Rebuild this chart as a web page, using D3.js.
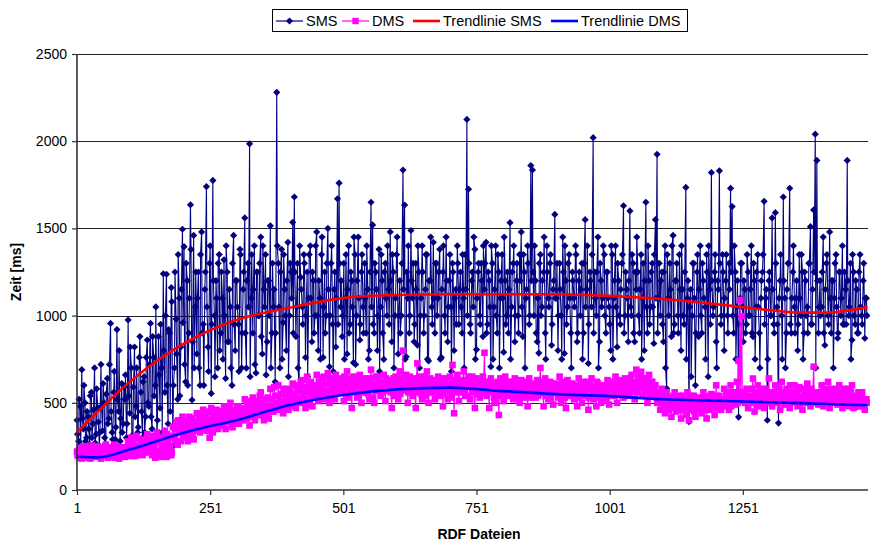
<!DOCTYPE html>
<html>
<head>
<meta charset="utf-8">
<script src="https://cdn.jsdelivr.net/npm/d3@7"></script>
<style>
  body { margin: 0; background: #fff; }
  svg { display: block; font-family: "Liberation Sans", Arial, sans-serif; }
</style>
</head>
<body>
<svg width="870" height="544"></svg>
<script>
// values in ms
// *Values: files 1, 4, 7, ...   *ValuesB: files 2, 5, 8, ...
const fileStep = 3;

const smsValues = [
  400, 280, 480, 690, 350, 500, 300, 420, 260, 560, 380, 700, 320, 470, 250,
  720, 340, 500, 260, 640, 410, 955, 330, 560, 290, 920, 450, 280, 610, 380,
  520, 300, 975, 440, 700, 277, 820, 480, 330, 760, 560, 300, 650, 420, 860,
  480, 955, 350, 760, 600, 290, 880, 470, 700, 1240, 560, 1237, 380, 900, 1160,
  250, 700, 980, 520, 1100, 820, 1495, 1395, 620, 1200, 900, 1635, 516, 1460, 1050,
  780, 1250, 600, 1480, 950, 1150, 1740, 820, 1300, 554, 1775, 1000, 1200, 700, 1350,
  900, 1100, 1320, 640, 1250, 850, 1050, 600, 1460, 800, 1200, 950, 1380, 700, 1150,
  1560, 699, 1300, 1985, 1100, 900, 1400, 671, 1250, 1000, 1450, 780, 1150, 1350, 850,
  1200, 1515, 900, 1050, 620, 2280, 1300, 700, 1380, 960, 1150, 800, 1420, 1000, 1250,
  1535, 1680, 880, 1300, 592, 1220, 1050, 1350, 760, 1250, 1100, 1400, 850, 1200, 1000,
  1480, 800, 1100, 1350, 760, 1250, 1000, 1500, 707, 1300, 950, 1150, 820, 1670, 1760,
  1050, 880, 1300, 1100, 780, 1400, 950, 1200, 730, 1350, 1000, 1450, 860, 1250, 1050,
  1300, 900, 1150, 800, 1650, 1520, 900, 1250, 800, 1380, 1050, 1200, 749, 1300, 1000,
  1150, 1480, 850, 1250, 1000, 1350, 780, 1200, 1000, 1835, 1634, 764, 1100, 900, 1488,
  1100, 850, 1300, 831, 1250, 1000, 1400, 900, 1150, 1350, 740, 1200, 1050, 1420, 900,
  1300, 1100, 1380, 760, 1250, 1000, 1450, 850, 1200, 1050, 1300, 800, 1150, 1400, 950,
  1250, 900, 1100, 1350, 2125, 1725, 950, 1200, 1050, 1380, 805, 1250, 1000, 1300, 880,
  1150, 1420, 950, 1200, 707, 1300, 1050, 1400, 900, 1250, 1100, 1350, 790, 1200, 1000,
  900, 1533, 1050, 1300, 850, 1200, 1000, 1350, 1480, 880, 1250, 1100, 1400, 950, 1860,
  1835, 1000, 1200, 850, 785, 1350, 1050, 1250, 900, 1400, 1100, 1300, 830, 1150, 1580,
  1100, 800, 1300, 1000, 1450, 783, 1200, 1050, 1350, 900, 1250, 1100, 1400, 850, 1200,
  1000, 1300, 900, 1550, 1150, 726, 1250, 1050, 2020, 1250, 1000, 1450, 850, 1200, 1100,
  1350, 900, 1250, 1050, 800, 1350, 1100, 1400, 820, 1200, 950, 1300, 1630, 1000, 1150,
  850, 1600, 1000, 1300, 850, 1150, 1250, 900, 1350, 1100, 800, 1650, 900, 1200, 1050,
  1300, 840, 1550, 1925, 1100, 1000, 1250, 850, 1400, 582, 1100, 1300, 880, 1460, 950,
  1200, 1000, 1350, 800, 1150, 950, 1735, 1100, 392, 1150, 1000, 1300, 600, 1250, 880,
  1400, 900, 1200, 1050, 1350, 650, 1150, 1820, 1000, 1250, 850, 1200, 1830, 950, 1350,
  800, 1200, 1000, 1300, 1730, 1625, 900, 1250, 1050, 418, 1100, 1300, 850, 1150, 950,
  1250, 1000, 1400, 880, 1200, 1050, 1350, 900, 1100, 1250, 1655, 1100, 400, 1200, 1000,
  1560, 950, 1590, 1050, 384, 1200, 1000, 1680, 1100, 900, 1300, 1730, 900, 1250, 1050,
  1100, 800, 1350, 1000, 1250, 900, 1200, 1050, 1300, 1510, 950, 1606, 2040, 1890, 900,
  1200, 1050, 1450, 830, 1300, 1000, 1480, 900, 1200, 1100, 1350, 870, 1250, 1000, 1400,
  950, 1150, 1890, 1000, 1300, 860, 1250, 950, 1150, 900, 1350, 1000, 1200, 870, 1100
];

const smsValuesB = [
  320, 520, 260, 410, 600, 280, 450, 350, 540, 300, 460, 270, 580, 390, 330,
  480, 610, 300, 550, 380, 720, 450, 290, 680, 360, 520, 800, 410, 330, 590,
  660, 380, 540, 820, 310, 590, 420, 700, 360, 880, 450, 620, 330, 760, 500,
  720, 420, 880, 540, 1050, 400, 660, 950, 330, 800, 1000, 600, 920, 450, 1080,
  600, 1250, 780, 1350, 540, 1150, 960, 720, 1300, 600, 1100, 1380, 850, 700, 1250,
  1100, 700, 1350, 900, 600, 1250, 1050, 680, 1400, 950, 1200, 650, 1100, 1300, 800,
  1250, 750, 1000, 1400, 850, 1150, 700, 1300, 950, 1200, 1050, 680, 1350, 900, 1250,
  900, 1200, 1050, 650, 1350, 1150, 720, 1250, 1000, 1300, 880, 1400, 1050, 660, 1200,
  1000, 700, 1300, 1150, 900, 1400, 1050, 1250, 750, 1350, 1000, 1200, 650, 1300, 1100,
  900, 1250, 1050, 700, 1400, 1150, 950, 1300, 1000, 650, 1350, 1100, 1250, 900, 1400,
  1000, 1200, 750, 1450, 1050, 900, 1300, 1150, 1000, 1400, 680, 1250, 1100, 950, 1300,
  1200, 1000, 750, 1350, 1150, 900, 1250, 1050, 1450, 720, 1200, 1100, 950, 1350, 900,
  1100, 1400, 750, 1250, 1050, 950, 1300, 1150, 1000, 680, 1350, 900, 1250, 1100, 1400,
  950, 1200, 1350, 700, 1100, 1450, 1000, 900, 1300, 1150, 750, 1250, 1400, 1000, 1200,
  1300, 950, 1150, 1400, 700, 1100, 1250, 1000, 1350, 750, 1200, 1450, 950, 1100, 1300,
  1000, 1250, 750, 1150, 1400, 900, 1200, 1050, 1350, 680, 1250, 1100, 950, 1300, 1150,
  1050, 1350, 700, 1150, 1000, 1300, 900, 1250, 1450, 750, 1100, 1300, 950, 1200, 1400,
  1300, 900, 1250, 1050, 1400, 750, 1150, 1000, 1350, 700, 1200, 1100, 1450, 950, 1250,
  1150, 750, 1250, 1400, 1000, 1300, 900, 1200, 1050, 1350, 700, 1150, 1300, 1000, 1200,
  1250, 1400, 900, 1100, 1300, 1000, 1200, 1450, 750, 1250, 1050, 1350, 950, 1200, 1100,
  1300, 1000, 1150, 750, 1250, 1400, 950, 1300, 1100, 700, 1200, 1050, 1350, 900, 1250,
  1150, 750, 1300, 1050, 1400, 950, 1200, 1350, 900, 1100, 1250, 700, 1300, 1050, 1400,
  1000, 1250, 1100, 950, 1400, 750, 1200, 1050, 1300, 1000, 1150, 1350, 900, 1250, 1100,
  1200, 1050, 1350, 900, 1250, 1450, 1000, 1150, 750, 1300, 1200, 1050, 1400, 950, 1250,
  1050, 1350, 1100, 900, 1300, 1200, 950, 1250, 700, 1350, 1000, 1150, 1400, 900, 1200,
  1300, 900, 1150, 1400, 1000, 1250, 750, 1200, 1050, 650, 1300, 1100, 900, 1350, 1150,
  1000, 1300, 1100, 750, 1250, 1400, 950, 1200, 1050, 1350, 700, 1150, 1300, 1000, 1250,
  1100, 1350, 900, 1150, 1250, 1000, 1400, 750, 1200, 950, 1300, 1050, 1200, 900, 1350,
  1000, 1150, 900, 1300, 750, 1250, 1050, 700, 1200, 1350, 950, 1150, 750, 1250, 1000,
  1150, 900, 1300, 950, 1100, 1350, 750, 1200, 700, 1150, 1300, 950, 1100, 1400, 900,
  1200, 950, 1100, 1350, 750, 1250, 1000, 900, 1300, 950, 1150, 1250, 700, 1200, 1050,
  1000, 1250, 900, 1150, 1350, 950, 1100, 1200, 700, 1300, 1050, 900, 1250, 1100, 950,
  1250, 950, 1200, 1050, 750, 1350, 1000, 1200, 900, 1250, 1050, 950, 1300, 1100, 1000
];

const dmsValues = [
  220, 195, 240, 180, 250, 205, 230, 185, 245, 210, 200, 235, 190, 250, 215,
  180, 240, 205, 260, 225, 190, 245, 200, 230, 185, 250, 210, 195, 240, 220,
  190, 245, 280, 210, 300, 230, 195, 310, 250, 215, 270, 200, 290, 235, 320,
  230, 290, 200, 250, 185, 330, 195, 300, 260, 210, 340, 190, 280, 230, 200,
  360, 300, 390, 260, 340, 280, 420, 320, 350, 300, 380, 330, 410, 290, 360,
  440, 370, 330, 400, 460, 350, 420, 380, 300, 470, 330, 430, 400, 360, 450,
  390, 420, 480, 350, 440, 400, 500, 370, 460, 420, 390, 480, 430, 450, 400,
  520, 410, 480, 370, 440, 530, 420, 470, 500, 430, 560, 460, 400, 520, 480,
  410, 580, 480, 450, 540, 490, 600, 460, 550, 440, 510, 470, 580, 530, 490,
  610, 510, 470, 580, 530, 620, 500, 560, 470, 650, 490, 590, 530, 560, 600,
  660, 510, 570, 640, 520, 600, 560, 670, 500, 620, 580, 540, 660, 590, 620,
  570, 640, 510, 610, 680, 550, 600, 470, 650, 580, 620, 540, 660, 500, 600,
  640, 560, 610, 520, 690, 590, 500, 650, 570, 620, 540, 600, 660, 510, 630,
  580, 630, 470, 640, 560, 610, 520, 680, 590, 799, 600, 660, 500, 620, 580,
  540, 630, 470, 726, 580, 650, 520, 610, 570, 680, 500, 640, 560, 610, 520,
  600, 650, 540, 620, 480, 590, 640, 520, 600, 560, 717, 440, 600, 660, 510,
  620, 580, 680, 540, 600, 650, 520, 610, 560, 470, 640, 590, 530, 600, 650,
  787, 560, 620, 470, 640, 590, 530, 610, 560, 430, 640, 580, 510, 650, 600,
  540, 620, 580, 520, 640, 560, 610, 500, 630, 570, 530, 600, 480, 640, 560,
  610, 570, 530, 630, 550, 700, 600, 480, 640, 580, 520, 620, 560, 490, 610,
  590, 530, 650, 500, 600, 560, 470, 630, 540, 580, 610, 520, 570, 480, 640,
  590, 500, 620, 550, 600, 460, 580, 640, 520, 590, 480, 610, 550, 500, 600,
  570, 520, 630, 490, 580, 610, 540, 650, 500, 600, 560, 620, 530, 640, 580,
  620, 540, 660, 580, 520, 690, 560, 610, 678, 540, 640, 580, 500, 660, 590,
  620, 540, 600, 500, 540, 460, 580, 520, 440, 560, 480, 530, 420, 500, 560,
  450, 520, 470, 410, 540, 490, 430, 560, 400, 500, 470, 540, 420, 510, 460,
  530, 440, 560, 480, 410, 520, 460, 550, 500, 430, 600, 480, 540, 460, 520,
  580, 480, 540, 460, 600, 510, 560, 490, 620, 740, 1089, 997, 560, 500, 580,
  470, 540, 510, 639, 450, 530, 600, 480, 560, 520, 470, 580, 500, 640, 520,
  480, 550, 600, 500, 570, 460, 620, 530, 490, 580, 520, 470, 560, 510, 600,
  540, 480, 590, 520, 460, 570, 500, 610, 530, 480, 560, 707, 520, 560, 490,
  540, 600, 480, 560, 510, 620, 470, 580, 530, 500, 560, 490, 600, 520, 470,
  580, 510, 560, 480, 540, 600, 470, 530, 500, 560, 480, 540, 500, 460, 520
];

const dmsValuesB = [
  200, 230, 185, 245, 210, 195, 240, 220, 180, 255, 205, 190, 235, 215, 200,
  225, 195, 250, 210, 185, 235, 220, 190, 260, 205, 230, 180, 245, 215, 200,
  240, 210, 260, 195, 280, 225, 250, 200, 295, 230, 205, 275, 215, 250, 230,
  265, 215, 310, 240, 205, 280, 220, 190, 300, 245, 210, 320, 200, 250, 215,
  310, 350, 280, 400, 330, 370, 300, 390, 340, 280, 420, 360, 320, 380, 340,
  390, 420, 350, 440, 380, 410, 340, 450, 400, 370, 420, 380, 460, 350, 410,
  430, 370, 460, 410, 390, 470, 420, 360, 450, 400, 480, 380, 440, 470, 410,
  460, 440, 510, 420, 490, 450, 400, 510, 460, 540, 430, 500, 470, 440, 530,
  470, 520, 450, 590, 500, 460, 540, 510, 470, 580, 500, 550, 460, 570, 520,
  550, 480, 600, 520, 570, 500, 630, 540, 590, 510, 560, 620, 480, 600, 540,
  580, 620, 540, 600, 650, 560, 610, 530, 640, 570, 600, 520, 630, 560, 590,
  610, 560, 650, 590, 530, 640, 580, 620, 560, 600, 530, 650, 580, 620, 560,
  590, 620, 550, 640, 580, 530, 610, 570, 650, 590, 620, 560, 600, 640, 570,
  620, 560, 600, 540, 650, 580, 620, 550, 640, 600, 570, 620, 560, 650, 600,
  600, 560, 640, 580, 620, 550, 600, 650, 540, 620, 590, 560, 630, 580, 600,
  560, 610, 580, 640, 550, 620, 570, 600, 650, 530, 610, 580, 630, 560, 600,
  580, 630, 560, 600, 540, 620, 590, 650, 570, 600, 550, 620, 580, 560, 610,
  600, 540, 590, 620, 560, 600, 500, 580, 620, 540, 600, 560, 620, 570, 540,
  590, 560, 620, 540, 600, 580, 530, 610, 560, 600, 540, 620, 570, 530, 600,
  560, 600, 580, 540, 610, 560, 590, 620, 540, 600, 570, 530, 610, 560, 580,
  560, 600, 540, 620, 570, 530, 600, 560, 610, 540, 590, 560, 600, 530, 580,
  560, 610, 540, 580, 620, 530, 600, 560, 590, 540, 620, 570, 530, 590, 560,
  600, 550, 580, 620, 540, 600, 570, 610, 550, 630, 580, 540, 610, 560, 620,
  600, 640, 570, 620, 600, 560, 650, 620, 590, 640, 570, 620, 600, 550, 620,
  580, 600, 540, 560, 500, 520, 540, 480, 510, 520, 460, 500, 480, 540, 470,
  500, 470, 540, 460, 500, 520, 470, 510, 460, 540, 500, 450, 520, 480, 500,
  490, 520, 470, 530, 460, 500, 540, 480, 520, 470, 540, 500, 460, 520, 490,
  520, 560, 500, 540, 480, 560, 520, 540, 500, 560, 520, 560, 520, 560, 500,
  540, 500, 580, 520, 560, 490, 540, 510, 580, 500, 550, 520, 560, 500, 540,
  520, 560, 500, 540, 580, 510, 550, 500, 560, 520, 540, 600, 500, 540, 520,
  560, 520, 540, 500, 580, 530, 560, 500, 540, 580, 520, 560, 500, 540, 520,
  560, 500, 540, 580, 520, 550, 500, 560, 540, 520, 580, 510, 540, 560, 500,
  540, 500, 580, 520, 560, 500, 540, 520, 480, 540, 520, 560, 500, 520, 500
];

// trend lines, read at these file numbers
const trendFiles = [1, 40, 100, 160, 220, 300, 400, 500, 600, 700, 800, 900, 1000, 1100, 1200, 1300, 1360, 1410, 1450, 1485];
const trendSms = [330, 450, 620, 760, 870, 975, 1045, 1100, 1118, 1122, 1122, 1122, 1113, 1095, 1066, 1032, 1017, 1017, 1030, 1050];
const trendDms = [191, 187, 232, 290, 344, 400, 487, 545, 577, 587, 567, 550, 538, 520, 512, 503, 498, 493, 489, 486];

const xTicks = [1, 251, 501, 751, 1001, 1251];
const yTicks = [0, 500, 1000, 1500, 2000, 2500];

const svg = d3.select("svg");

const plotLeft = 77, plotRight = 868, plotTop = 54, plotBottom = 490;

const x = d3.scaleLinear().domain([1, 1486]).range([plotLeft, plotRight]);
const y = d3.scaleLinear().domain([0, 2500]).range([plotBottom, plotTop]);

const toSeries = (a, b) =>
  a.map((v, i) => ({ file: 1 + i * fileStep, v }))
    .concat(b.map((v, i) => ({ file: 2 + i * fileStep, v })))
    .sort((p, q) => p.file - q.file);

const sms = toSeries(smsValues, smsValuesB);
const dms = toSeries(dmsValues, dmsValuesB);

// gridlines
svg.append("g")
  .selectAll("line")
  .data(yTicks.slice(1))
  .enter()
  .append("line")
  .attr("x1", plotLeft).attr("x2", plotRight)
  .attr("y1", (d) => Math.round(y(d)) + 0.5)
  .attr("y2", (d) => Math.round(y(d)) + 0.5)
  .attr("stroke", "#222")
  .attr("stroke-width", 1);

const line = d3.line().x((d) => x(d.file)).y((d) => y(d.v));

// SMS
svg.append("path")
  .datum(sms)
  .attr("d", line)
  .attr("fill", "none")
  .attr("stroke", "#000080")
  .attr("stroke-width", 1.1);

svg.append("g")
  .selectAll("path")
  .data(sms)
  .enter()
  .append("path")
  .attr("d", (d) => {
    const cx = x(d.file), cy = y(d.v), r = 3.6;
    return `M${cx},${cy - r}L${cx + r},${cy}L${cx},${cy + r}L${cx - r},${cy}Z`;
  })
  .attr("fill", "#000080");

// DMS
svg.append("path")
  .datum(dms)
  .attr("d", line)
  .attr("fill", "none")
  .attr("stroke", "#ff00ff")
  .attr("stroke-width", 1.1);

svg.append("g")
  .selectAll("rect")
  .data(dms)
  .enter()
  .append("rect")
  .attr("x", (d) => x(d.file) - 3.3)
  .attr("y", (d) => y(d.v) - 3.3)
  .attr("width", 6.6)
  .attr("height", 6.6)
  .attr("fill", "#ff00ff");

// trend lines
const trendLine = d3.line()
  .x((d) => x(d[0]))
  .y((d) => y(d[1]))
  .curve(d3.curveMonotoneX);

svg.append("path")
  .attr("d", trendLine(d3.zip(trendFiles, trendSms)))
  .attr("fill", "none")
  .attr("stroke", "#ff0000")
  .attr("stroke-width", 2.6);

svg.append("path")
  .attr("d", trendLine(d3.zip(trendFiles, trendDms)))
  .attr("fill", "none")
  .attr("stroke", "#0000ff")
  .attr("stroke-width", 2.6);

// axes
const yAxis = svg.append("g")
  .attr("transform", `translate(${plotLeft},0)`)
  .call(d3.axisLeft(y).tickValues(yTicks).tickFormat(d3.format("d")).tickSize(5).tickPadding(5));

const xAxis = svg.append("g")
  .attr("transform", `translate(0,${plotBottom})`)
  .call(d3.axisBottom(x).tickValues(xTicks).tickFormat(d3.format("d")).tickSize(5).tickPadding(8));

[yAxis, xAxis].forEach((g) => {
  g.select(".domain").attr("stroke", "#333").attr("stroke-width", 1.6);
  g.selectAll(".tick line").attr("stroke", "#333").attr("stroke-width", 1.2);
  g.selectAll("text")
    .attr("fill", "#000")
    .style("font-size", "14px")
    .style("font-family", "'Liberation Sans', Arial, sans-serif");
});
yAxis.select(".domain").attr("d", `M0,${plotBottom}V${plotTop}`);
xAxis.select(".domain").attr("d", `M${plotLeft},0H${plotRight}`);

svg.append("text")
  .attr("transform", `translate(21,${(plotTop + plotBottom) / 2}) rotate(-90)`)
  .attr("text-anchor", "middle")
  .attr("font-size", 14)
  .attr("font-weight", "bold")
  .text("Zeit [ms]");

svg.append("text")
  .attr("x", 479)
  .attr("y", 539)
  .attr("text-anchor", "middle")
  .attr("font-size", 14)
  .attr("font-weight", "bold")
  .text("RDF Dateien");

// legend
const legendItems = [
  { name: "SMS", color: "#000080", marker: "diamond", x: 276 },
  { name: "DMS", color: "#ff00ff", marker: "square", x: 342 },
  { name: "Trendlinie SMS", color: "#ff0000", marker: null, x: 413 },
  { name: "Trendlinie DMS", color: "#0000ff", marker: null, x: 551 },
];

const legend = svg.append("g");

legend.append("rect")
  .attr("x", 272.5).attr("y", 9.5)
  .attr("width", 415).attr("height", 22)
  .attr("fill", "#fff")
  .attr("stroke", "#000");

const items = legend.selectAll("g")
  .data(legendItems)
  .enter()
  .append("g")
  .attr("transform", (d) => `translate(${d.x},21)`);

items.append("line")
  .attr("x1", 0).attr("x2", 27)
  .attr("stroke", (d) => d.color)
  .attr("stroke-width", (d) => (d.marker ? 1.2 : 2.6));

items.filter((d) => d.marker === "diamond")
  .append("path")
  .attr("d", "M13.5,-3.6L17.1,0L13.5,3.6L9.9,0Z")
  .attr("fill", (d) => d.color);

items.filter((d) => d.marker === "square")
  .append("rect")
  .attr("x", 10.3).attr("y", -3.2)
  .attr("width", 6.4).attr("height", 6.4)
  .attr("fill", (d) => d.color);

items.append("text")
  .attr("x", 30)
  .attr("dy", "0.36em")
  .attr("font-size", 14.5)
  .text((d) => d.name);
</script>
</body>
</html>
